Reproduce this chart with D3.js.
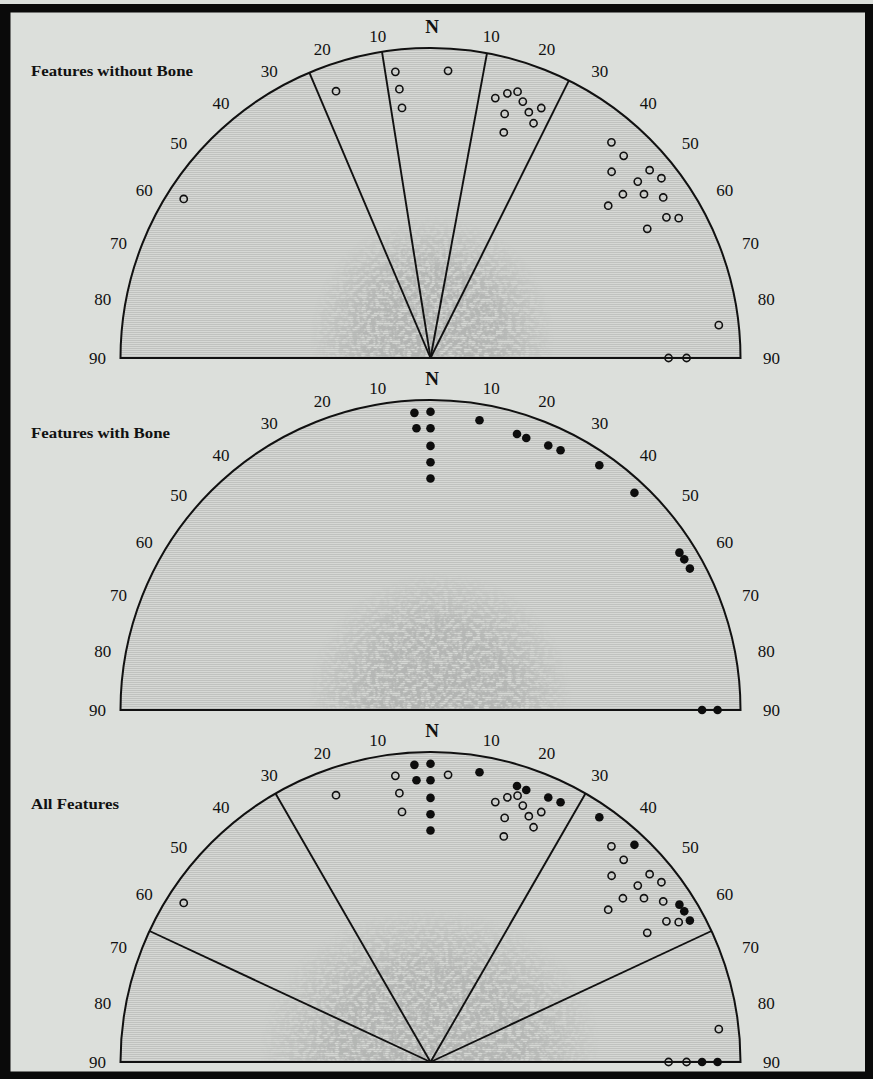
<!DOCTYPE html>
<html>
<head>
<meta charset="utf-8">
<script src="https://cdn.jsdelivr.net/npm/d3@7"></script>
<style>
  html, body { margin: 0; padding: 0; background: #dcdfdb; }
  svg { display: block; }
</style>
</head>
<body>
<svg id="chart" width="873" height="1079"></svg>
<script>
// Orientation of features: azimuth in degrees from north (west negative),
// radial position in percent of the half-circle radius.
const withoutBoneAzimuth = [-7, -6.6, -6.5, 3.5, 14, 16.2, 18.1, 19.8, 23.9, 21.8, 16.9, 23.7, 18,
  40, 43.7, 44.2, 49.4, 52.1, 49.6, 49.6, 52.5, 55.4, 49.4, 59.2, 60.6, 59.2, -19.5, -57.2, 83.5, 90, 90];
const withoutBoneRadial = [93, 87.3, 81.2, 92.8, 86.4, 88.9, 90.4, 87.9, 88.2, 85.4, 82.3, 82.7, 76.5,
  90.8, 90.2, 83.8, 93.1, 94.4, 87.8, 81.5, 86.8, 91.2, 75.5, 88.6, 91.9, 81.4, 91.3, 94.7, 93.6, 76.8, 82.6];

const withBoneAzimuth = [-3.1, 0, -2.85, 0, 0, 0, 0, 9.6, 17.4, 19.4, 24, 26.6, 34.6, 43.2, 57.7, 59.3, 61.4, 90, 90];
const withBoneRadial = [96, 96.2, 91, 90.9, 85.2, 79.9, 74.7, 94.8, 93.3, 93, 93.4, 93.7, 95.9, 96.1, 95, 95.2, 95.3, 87.6, 92.6];

const tickDegrees = [10, 20, 30, 40, 50, 60, 70, 80, 90];
const panelTitles = ["Features without Bone", "Features with Bone", "All Features"];
const sectorBoundsWithout = [-23, -9, 10.5, 26.5];
const sectorBoundsWith = [];
const sectorBoundsAll = [-65, -30, 30, 65];

// ---- layout ----
const R = 310, CX = 430.5;
const serif = "'Liberation Serif', 'Times New Roman', serif";
const openPts = d3.zip(withoutBoneAzimuth, withoutBoneRadial);
const filledPts = d3.zip(withBoneAzimuth, withBoneRadial);

const panels = [
  { title: panelTitles[0], cy: 358, titleY: 71, titleW: 162, sectors: sectorBoundsWithout,
    open: openPts, filled: [], cloud: { x: 432, y: 338, rx: 122, ry: 122 } },
  { title: panelTitles[1], cy: 710, titleY: 433, titleW: 139, sectors: sectorBoundsWith,
    open: [], filled: filledPts, cloud: { x: 440, y: 700, rx: 132, ry: 128 } },
  { title: panelTitles[2], cy: 1062, titleY: 804, titleW: 88, sectors: sectorBoundsAll,
    open: openPts, filled: filledPts, cloud: { x: 430, y: 1048, rx: 170, ry: 140 } }
];

const angle = d3.scaleLinear().domain([-90, 90]).range([-Math.PI / 2, Math.PI / 2]);
const radial = d3.scaleLinear().domain([0, 100]).range([0, R]);

const svg = d3.select("#chart");
const defs = svg.append("defs");

// halftone screen used inside the half circles
const pat = defs.append("pattern").attr("id", "screen")
  .attr("patternUnits", "userSpaceOnUse").attr("width", 2).attr("height", 2);
pat.append("rect").attr("width", 2).attr("height", 2).attr("fill", "#d6d8d5");
pat.append("rect").attr("width", 1).attr("height", 1).attr("fill", "#a9aba8");

// grainy density cloud
const grain = defs.append("filter").attr("id", "grain")
  .attr("x", 0).attr("y", 0).attr("width", 1).attr("height", 1);
grain.append("feTurbulence").attr("type", "fractalNoise").attr("baseFrequency", 0.22)
  .attr("numOctaves", 2).attr("seed", 11);
grain.append("feColorMatrix").attr("type", "matrix")
  .attr("values", "0 0 0 0 0.44  0 0 0 0 0.45  0 0 0 0 0.44  4.4 0 0 0 -1.6");

const fade = defs.append("radialGradient").attr("id", "fade");
fade.append("stop").attr("offset", "0%").attr("stop-color", "#fff").attr("stop-opacity", 1);
fade.append("stop").attr("offset", "55%").attr("stop-color", "#fff").attr("stop-opacity", 0.85);
fade.append("stop").attr("offset", "100%").attr("stop-color", "#fff").attr("stop-opacity", 0);

const halfArc = d3.arc().innerRadius(0).outerRadius(R)
  .startAngle(-Math.PI / 2).endAngle(Math.PI / 2);

panels.forEach((p, i) => {
  const g = svg.append("g").attr("transform", `translate(${CX},${p.cy})`);

  defs.append("clipPath").attr("id", "clip" + i)
    .append("path").attr("d", halfArc());

  const m = defs.append("mask").attr("id", "mask" + i).attr("maskUnits", "userSpaceOnUse")
    .attr("x", -CX).attr("y", -p.cy).attr("width", 873).attr("height", 1079);
  m.append("ellipse")
    .attr("cx", p.cloud.x - CX).attr("cy", p.cloud.y - p.cy)
    .attr("rx", p.cloud.rx).attr("ry", p.cloud.ry)
    .attr("fill", "url(#fade)");

  // shaded interior
  g.append("path").attr("d", halfArc()).attr("fill", "url(#screen)");

  // density cloud
  g.append("g").attr("clip-path", `url(#clip${i})`)
    .append("g").attr("mask", `url(#mask${i})`)
    .append("rect")
    .attr("x", -R).attr("y", -R).attr("width", 2 * R).attr("height", R)
    .attr("fill", "#888").attr("filter", "url(#grain)");

  // sector boundaries
  g.selectAll("line.sector").data(p.sectors).join("line")
    .attr("class", "sector")
    .attr("x1", 0).attr("y1", 0)
    .attr("x2", d => d3.pointRadial(angle(d), R)[0])
    .attr("y2", d => d3.pointRadial(angle(d), R)[1])
    .attr("stroke", "#111").attr("stroke-width", 1.9);

  // outline
  g.append("path").attr("d", halfArc()).attr("fill", "none")
    .attr("stroke", "#111").attr("stroke-width", 2).attr("stroke-linejoin", "miter");

  // degree labels on both sides of north
  const labels = [];
  tickDegrees.forEach(d => { labels.push(-d); labels.push(d); });
  g.selectAll("text.deg").data(labels).join("text")
    .attr("class", "deg")
    .attr("x", d => d3.pointRadial(angle(d), 324 + 13 * Math.sin(Math.abs(angle(d))))[0] + 4)
    .attr("y", d => d3.pointRadial(angle(d), 324 + 13 * Math.sin(Math.abs(angle(d))))[1])
    .attr("dy", "0.33em")
    .attr("text-anchor", "middle")
    .attr("font-family", serif).attr("font-size", 17).attr("fill", "#111")
    .text(d => Math.abs(d));

  g.append("text")
    .attr("x", 1.5).attr("y", -331).attr("dy", "0.33em")
    .attr("text-anchor", "middle")
    .attr("font-family", serif).attr("font-size", 19).attr("font-weight", "bold").attr("fill", "#111")
    .text("N");

  // panel title
  svg.append("text")
    .attr("x", 31).attr("y", p.titleY).attr("dy", "0.33em")
    .attr("font-family", serif).attr("font-size", 15.5).attr("font-weight", "bold").attr("fill", "#111")
    .attr("textLength", p.titleW).attr("lengthAdjust", "spacingAndGlyphs")
    .text(p.title);

  // observations
  g.selectAll("circle.open").data(p.open).join("circle")
    .attr("class", "open")
    .attr("cx", d => d3.pointRadial(angle(d[0]), radial(d[1]))[0])
    .attr("cy", d => d3.pointRadial(angle(d[0]), radial(d[1]))[1])
    .attr("r", 3.6)
    .attr("fill", "none").attr("stroke", "#111").attr("stroke-width", 1.6);

  g.selectAll("circle.filled").data(p.filled).join("circle")
    .attr("class", "filled")
    .attr("cx", d => d3.pointRadial(angle(d[0]), radial(d[1]))[0])
    .attr("cy", d => d3.pointRadial(angle(d[0]), radial(d[1]))[1])
    .attr("r", 4.3)
    .attr("fill", "#0d0d0d");
});

// frame
const frame = svg.append("g").attr("fill", "#0a0a0a");
frame.append("rect").attr("x", 0).attr("y", 4).attr("width", 873).attr("height", 8.5);
frame.append("rect").attr("x", 0).attr("y", 4).attr("width", 10.5).attr("height", 1075);
frame.append("rect").attr("x", 865).attr("y", 4).attr("width", 8).attr("height", 1075);
frame.append("rect").attr("x", 0).attr("y", 1071.5).attr("width", 873).attr("height", 7.5);
</script>
</body>
</html>
